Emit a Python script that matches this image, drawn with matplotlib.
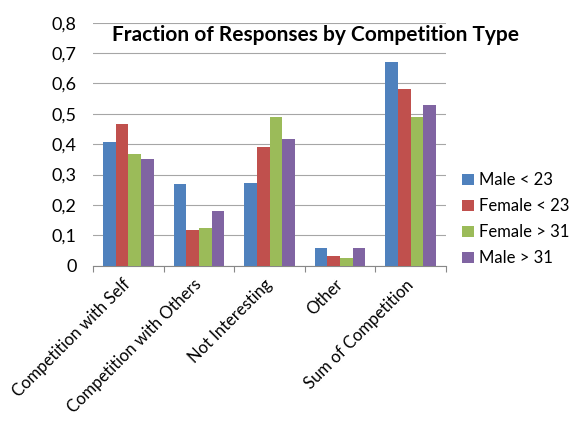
import numpy as np
import matplotlib
matplotlib.use("Agg")
import matplotlib.pyplot as plt
from matplotlib.ticker import FuncFormatter

plt.rcParams['font.family'] = ['Lato', 'DejaVu Sans']

categories = ["Competition with Self", "Competition with Others",
              "Not Interesting", "Other", "Sum of Competition"]
groups = ["Male < 23", "Female < 23", "Female > 31", "Male > 31"]
male_u23 = [0.406, 0.269, 0.273, 0.057, 0.672]
female_u23 = [0.465, 0.117, 0.391, 0.033, 0.581]
female_o31 = [0.368, 0.124, 0.490, 0.024, 0.490]
male_o31 = [0.350, 0.180, 0.416, 0.059, 0.528]
colors = ["#4F81BD", "#C0504D", "#9BBB59", "#8064A2"]

series = [male_u23, female_u23, female_o31, male_o31]

fig = plt.figure(figsize=(5.71, 4.21), dpi=100)
ax = fig.add_axes([0.163, 0.369, 0.618, 0.577])

x = np.arange(len(categories))
w = 0.18
for i, (vals, c, name) in enumerate(zip(series, colors, groups)):
    ax.bar(x + (i - 1.5) * w, vals, w, color=c, label=name, zorder=3)

ax.set_xlim(-0.5, len(categories) - 0.5)
ax.set_ylim(0, 0.8)
ax.set_yticks(np.arange(0, 0.81, 0.1))
ax.yaxis.set_major_formatter(FuncFormatter(
    lambda v, p: "0" if abs(v) < 1e-9 else f"{v:.1f}".replace(".", ",")))
ax.yaxis.grid(True, color="#A6A6A6", linewidth=0.8, zorder=0)
ax.tick_params(axis='y', length=0, labelsize=13, pad=12)

# category boundaries carry the ticks, labels sit at the centres
ax.set_xticks(np.arange(-0.5, len(categories), 1.0))
ax.set_xticklabels([])
ax.tick_params(axis='x', which='major', length=4, color="#888888")
ax.set_xticks(x, minor=True)
ax.set_xticklabels(categories, minor=True, rotation=45, ha='right',
                   va='center', rotation_mode='anchor', fontsize=12)
ax.tick_params(axis='x', which='minor', length=0, pad=12)

for s in ['top', 'right', 'left']:
    ax.spines[s].set_visible(False)
ax.spines['bottom'].set_color("#888888")

fig.text(0.552, 0.917, "Fraction of Responses by Competition Type",
         ha='center', va='center', fontsize=15, fontweight='bold')

handles, labels = ax.get_legend_handles_labels()
fig.legend(handles, labels, loc='center left', bbox_to_anchor=(0.809, 0.479),
           frameon=False, fontsize=12, handlelength=0.7, handleheight=0.7,
           handletextpad=0.35, labelspacing=0.6, borderaxespad=0, borderpad=0)

fig.savefig("out.png", dpi=100)
